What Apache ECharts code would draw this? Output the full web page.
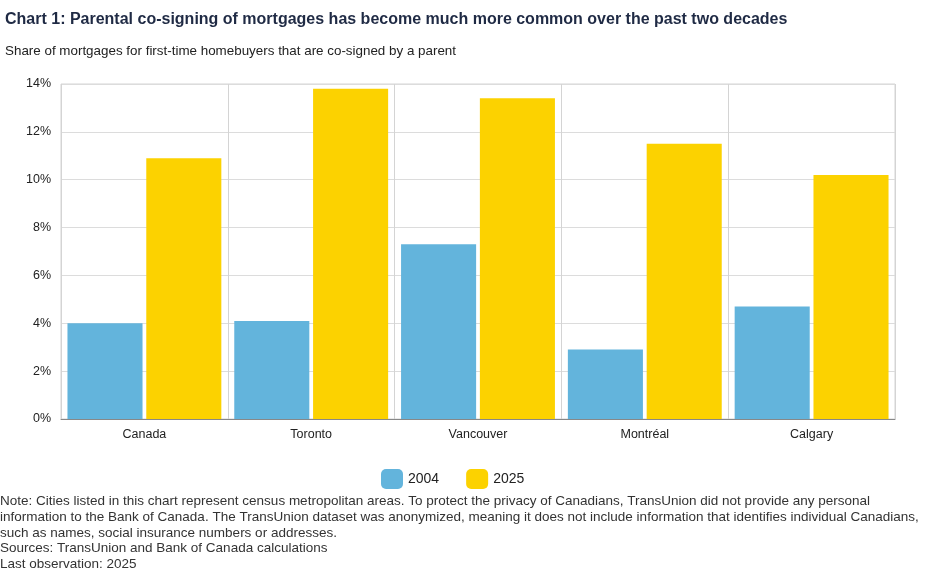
<!DOCTYPE html>
<html><head><meta charset="utf-8">
<script src="https://cdn.jsdelivr.net/npm/echarts@6/dist/echarts.min.js"></script>
<style>html,body{margin:0;padding:0;background:#fff}#c{width:938px;height:570px}</style>
</head><body><div id="c"></div>
<script>
const categories = ['Canada', 'Toronto', 'Vancouver', 'Montréal', 'Calgary'];
const values2004 = [4.0, 4.1, 7.3, 2.9, 4.7];
const values2025 = [10.9, 13.8, 13.4, 11.5, 10.2];
const seriesNames = ['2004', '2025'];
const yTicks = [0, 2, 4, 6, 8, 10, 12, 14];
const titleText = 'Chart 1: Parental co-signing of mortgages has become much more common over the past two decades';
const subtitleText = 'Share of mortgages for first-time homebuyers that are co-signed by a parent';
const noteLines = [
  'Note: Cities listed in this chart represent census metropolitan areas. To protect the privacy of Canadians, TransUnion did not provide any personal',
  'information to the Bank of Canada. The TransUnion dataset was anonymized, meaning it does not include information that identifies individual Canadians,',
  'such as names, social insurance numbers or addresses.',
  'Sources: TransUnion and Bank of Canada calculations',
  'Last observation: 2025'
];
const FONT = 'Liberation Sans, Arial, sans-serif';
const chart = echarts.init(document.getElementById('c'));
chart.setOption({
  animation: false,
  textStyle: { fontFamily: FONT },
  title: [
    { text: titleText, left: 0, top: 7, textStyle: { fontFamily: FONT, fontSize: 16, fontWeight: 'bold', color: '#1f2a44' } },
    { text: subtitleText, left: 0, top: 40, textStyle: { fontFamily: FONT, fontSize: 13.4, fontWeight: 'normal', color: '#222' } }
  ],
  legend: {
    data: seriesNames, top: 464, left: 376,
    itemWidth: 22, itemHeight: 20, itemGap: 27,
    textStyle: { fontFamily: FONT, fontSize: 14, color: '#222' }
  },
  grid: { left: 61, right: 43, top: 84, bottom: 151, show: true, borderColor: '#d4d4d4', borderWidth: 1 },
  xAxis: {
    type: 'category', data: categories,
    axisLine: { lineStyle: { color: '#888' } },
    axisTick: { show: false },
    splitLine: { show: true, lineStyle: { color: '#d4d4d4' } },
    axisLabel: { fontFamily: FONT, fontSize: 12.5, color: '#222', margin: 9 }
  },
  yAxis: {
    type: 'value', min: yTicks[0], max: yTicks[yTicks.length - 1], interval: 2,
    axisLine: { show: false }, axisTick: { show: false },
    splitLine: { lineStyle: { color: '#dcdcdc' } },
    axisLabel: { fontFamily: FONT, fontSize: 12.5, color: '#222', formatter: v => v + '%', margin: 10 }
  },
  series: [
    { name: seriesNames[0], type: 'bar', data: values2004, barWidth: '45%', barGap: '5%', itemStyle: { color: '#63b4dc' } },
    { name: seriesNames[1], type: 'bar', data: values2025, barWidth: '45%', barGap: '5%', itemStyle: { color: '#fcd200' } }
  ],
  graphic: noteLines.map((t, i) => ({
    type: 'text', left: 0, top: 494 + i * 15.9,
    style: { text: t, fontFamily: FONT, fontSize: 13.5, fill: '#333' }
  }))
});
</script></body></html>
